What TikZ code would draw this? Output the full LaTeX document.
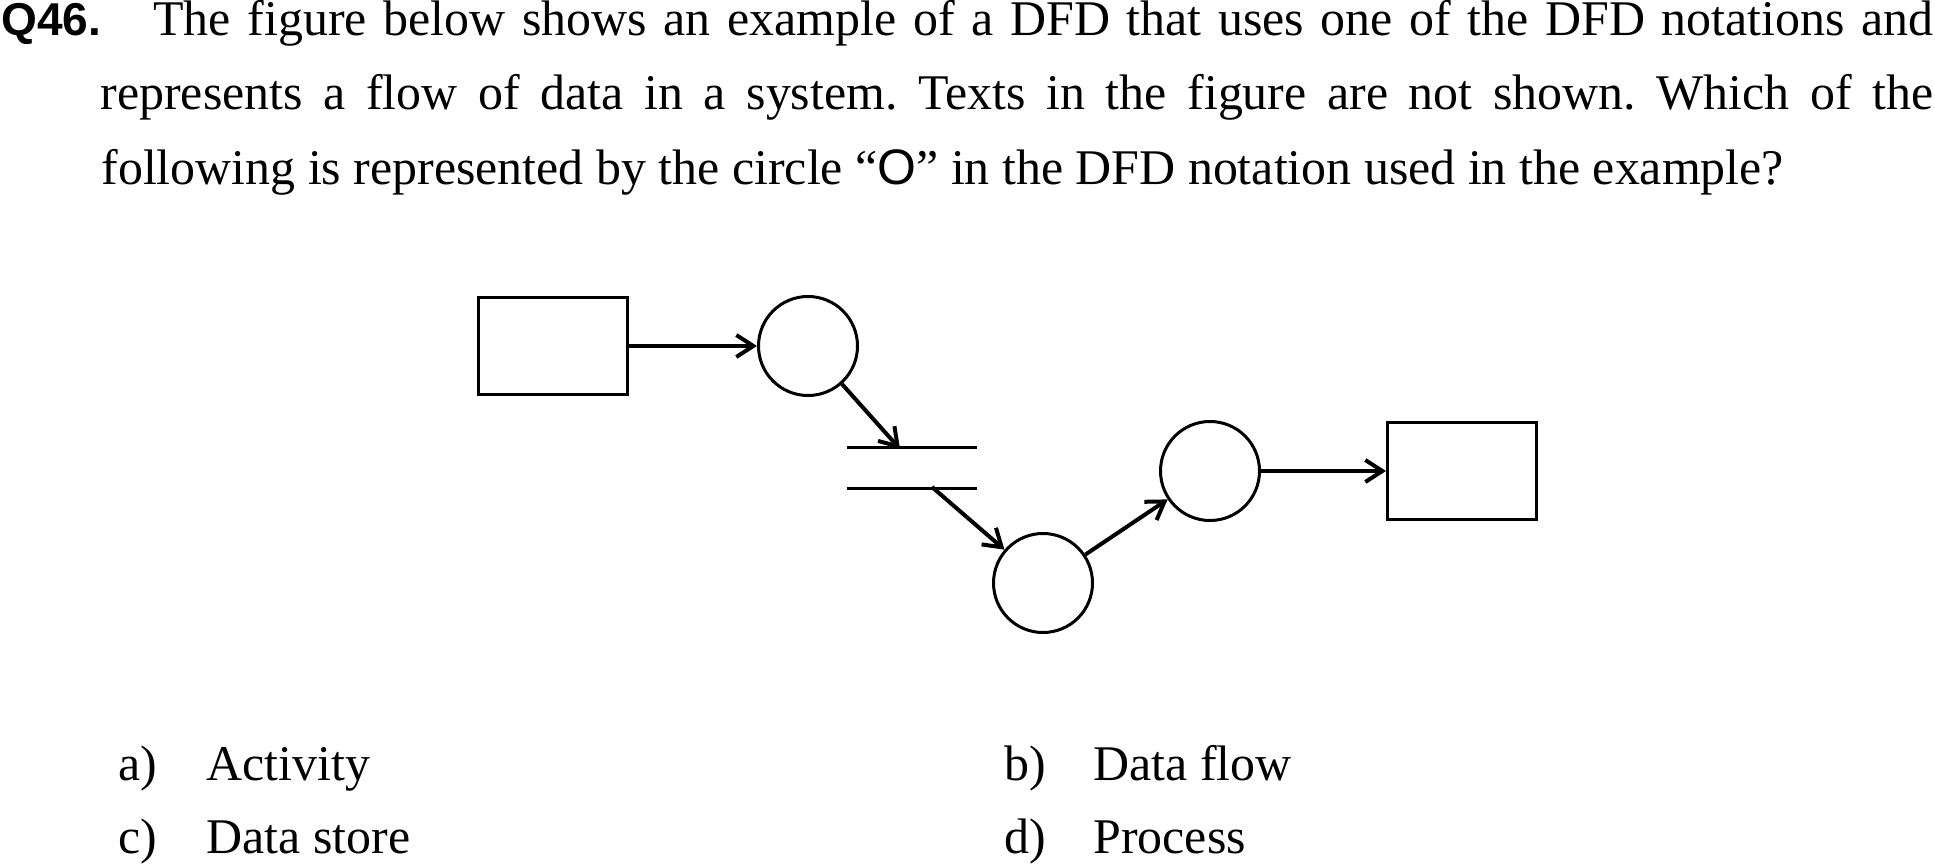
\documentclass[tikz,border=0pt]{standalone}
\usepackage{fontspec}
\setmainfont{Liberation Serif}
\newfontfamily\qfont{Liberation Sans}
\usetikzlibrary{arrows.meta}
\frenchspacing

\begin{document}
\begin{tikzpicture}[x=0.2mm, y=-0.2mm,
    line width=0.6mm,
    >={Straight Barb[length=3.4mm,width=4.4mm]},
    entity/.style = {
      draw,
      rectangle,
      inner sep = 0pt,
      minimum width = 29.8mm,
      minimum height = 19.4mm
    },
    proc/.style = {
      draw,
      circle,
      inner sep = 0pt,
      minimum size = 19.8mm
    },
    flow/.style = {->, line width = 0.8mm},
    txt/.style = {
      anchor = base west,
      inner sep = 0pt,
      font = \fontsize{28.4pt}{30pt}\selectfont
    }
  ]
  \useasboundingbox (0,0) rectangle (1935,866);

  \node[txt, font=\qfont\bfseries\fontsize{26.2pt}{30pt}\selectfont] (qnum) at (0,36) {Q46.};
  \node[txt] (line1) at (152,36) {\makebox[356mm][s]{The figure below shows an example of a DFD that uses one of the DFD notations and}};
  \node[txt] (line2) at (99,110) {\makebox[366.6mm][s]{represents a flow of data in a system. Texts in the figure are not shown. Which of the}};
  \node[txt] (line3) at (100,185) {following is represented by the circle “{\qfont O}” in the DFD notation used in the example?};

  \node[entity] (src) at (553,346) {};
  \node[proc] (procA) at (808,346) {};
  \node[rectangle, inner sep=0pt, minimum width=25.4mm, minimum height=7.6mm] (store) at (911.5,468) {};
  \node[proc] (procC) at (1043,583) {};
  \node[proc] (procB) at (1210,471) {};
  \node[entity] (sink) at (1462,471) {};

  \coordinate (storein) at (900,449);
  \coordinate (storeout) at (932,487);

  \draw (store.north west) -- (store.north east);
  \draw (store.south west) -- (store.south east);

  \draw[flow] (src) -- (procA);
  \draw[flow] (procA) -- (storein);
  \draw[flow] (storeout) -- (procC);
  \draw[flow] (procC) -- (procB);
  \draw[flow] (procB) -- (sink);

  \node[txt] (optA) at (117,780) {a)};
  \node[txt] (ansA) at (205,780) {Activity};
  \node[txt] (optB) at (1003,780) {b)};
  \node[txt] (ansB) at (1092,780) {Data flow};
  \node[txt] (optC) at (117,853) {c)};
  \node[txt] (ansC) at (205,853) {Data store};
  \node[txt] (optD) at (1003,853) {d)};
  \node[txt] (ansD) at (1092,853) {Process};
\end{tikzpicture}
\end{document}
